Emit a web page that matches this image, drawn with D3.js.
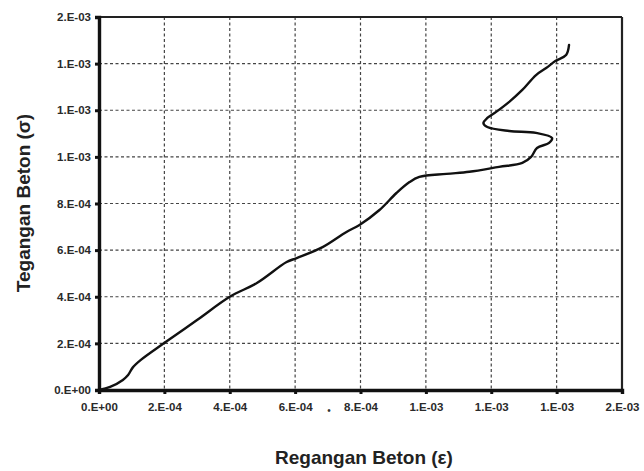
<!DOCTYPE html>
<html>
<head>
<meta charset="utf-8">
<script src="https://cdn.jsdelivr.net/npm/d3@7"></script>
<style>
  body { margin: 0; background: #fff; }
  svg { display: block; font-family: "Liberation Sans", Arial, sans-serif; }
</style>
</head>
<body>
<svg id="chart" width="644" height="471"></svg>
<script>
// regangan (strain) values
const strain = [0, 3.4e-5, 7.3e-5, 8.9e-5, 1.03e-4, 1.28e-4, 1.95e-4, 3.0e-4, 4.0e-4, 4.83e-4,
  5.74e-4, 6.05e-4, 6.84e-4, 7.57e-4, 7.97e-4, 8.58e-4, 9.10e-4, 9.50e-4, 9.80e-4, 1.063e-3,
  1.133e-3, 1.224e-3, 1.295e-3, 1.322e-3, 1.340e-3, 1.377e-3, 1.386e-3, 1.337e-3, 1.255e-3,
  1.188e-3, 1.176e-3, 1.188e-3, 1.215e-3, 1.255e-3, 1.295e-3, 1.337e-3, 1.368e-3, 1.396e-3,
  1.429e-3, 1.438e-3]
// tegangan (stress) values
const stress = [0, 1.3e-5, 4.3e-5, 6.4e-5, 9.6e-5, 1.29e-4, 1.97e-4, 3.0e-4, 4.0e-4, 4.59e-4,
  5.49e-4, 5.66e-4, 6.13e-4, 6.78e-4, 7.08e-4, 7.72e-4, 8.45e-4, 8.92e-4, 9.14e-4, 9.27e-4,
  9.36e-4, 9.57e-4, 9.74e-4, 1.0e-3, 1.038e-3, 1.060e-3, 1.081e-3, 1.103e-3, 1.111e-3,
  1.128e-3, 1.145e-3, 1.167e-3, 1.193e-3, 1.236e-3, 1.287e-3, 1.351e-3, 1.381e-3, 1.411e-3,
  1.437e-3, 1.480e-3]
const xTicks = [0, 2e-4, 4e-4, 6e-4, 8e-4, 1e-3, 1.2e-3, 1.4e-3, 1.6e-3]
const yTicks = [0, 2e-4, 4e-4, 6e-4, 8e-4, 1e-3, 1.2e-3, 1.4e-3, 1.6e-3]

const data = strain.map((d, i) => ({ x: d, y: stress[i] }))

// excel style "0.E+00"
const sci = v => {
  if (v === 0) return '0.E+00'
  let e = Math.floor(Math.log10(Math.abs(v)))
  let mant = Math.round(v / Math.pow(10, e))
  if (mant >= 10) { mant = 1; e += 1 }
  const s = e < 0 ? '-' : '+'
  return mant + '.E' + s + String(Math.abs(e)).padStart(2, '0')
}

const svg = d3.select('#chart')
const m = { left: 99, right: 622, top: 17, bottom: 390 }

const x = d3.scaleLinear().domain([0, 1.6e-3]).range([m.left, m.right])
const y = d3.scaleLinear().domain([0, 1.6e-3]).range([m.bottom, m.top])

// grid
const grid = svg.append('g')
grid.selectAll('.gx').data(xTicks.slice(1, -1)).enter().append('line')
  .attr('x1', d => x(d)).attr('x2', d => x(d))
  .attr('y1', m.top).attr('y2', m.bottom)
  .attr('stroke', '#444').attr('stroke-width', 1.2).attr('stroke-dasharray', '3,2.5')
grid.selectAll('.gy').data(yTicks.slice(1, -1)).enter().append('line')
  .attr('x1', m.left).attr('x2', m.right)
  .attr('y1', d => y(d)).attr('y2', d => y(d))
  .attr('stroke', '#444').attr('stroke-width', 1.2).attr('stroke-dasharray', '3,2.5')

// frame
svg.append('line').attr('x1', m.left).attr('x2', m.right).attr('y1', m.top).attr('y2', m.top)
  .attr('stroke', '#222').attr('stroke-width', 2.2)
svg.append('line').attr('x1', m.right).attr('x2', m.right).attr('y1', m.top).attr('y2', m.bottom)
  .attr('stroke', '#222').attr('stroke-width', 2.2)

// axes
const xAxis = d3.axisBottom(x).tickValues(xTicks).tickFormat(sci).tickSize(4).tickPadding(9)
const yAxis = d3.axisLeft(y).tickValues(yTicks).tickFormat(sci).tickSize(4).tickPadding(4)

const gx = svg.append('g').attr('transform', `translate(0,${m.bottom})`).call(xAxis)
const gy = svg.append('g').attr('transform', `translate(${m.left},0)`).call(yAxis)
;[gx, gy].forEach(g => {
  g.select('.domain').attr('stroke', '#111').attr('stroke-width', 3.4)
  g.selectAll('.tick line').attr('stroke', '#111').attr('stroke-width', 3)
  g.selectAll('.tick text').attr('fill', '#2a2a2a').attr('font-size', 11.5).attr('font-weight', 'bold')
})

// stray mark in the scan
svg.append('text').attr('x', 329).attr('y', 414).attr('text-anchor', 'middle')
  .attr('font-size', 10).attr('fill', '#333').text('•')

// curve
const line = d3.line().x(d => x(d.x)).y(d => y(d.y)).curve(d3.curveCatmullRom.alpha(0.5))
svg.append('path').datum(data).attr('d', line)
  .attr('fill', 'none').attr('stroke', '#111').attr('stroke-width', 2.4)
  .attr('stroke-linejoin', 'round').attr('stroke-linecap', 'round')

// titles
svg.append('text').attr('x', 364).attr('y', 464).attr('text-anchor', 'middle')
  .attr('font-size', 19).attr('font-weight', 'bold').attr('fill', '#222')
  .text('Regangan Beton (ε)')
svg.append('text').attr('transform', 'translate(30,203) rotate(-90)')
  .attr('text-anchor', 'middle')
  .attr('font-size', 19).attr('font-weight', 'bold').attr('fill', '#222')
  .text('Tegangan Beton (σ)')
</script>
</body>
</html>
